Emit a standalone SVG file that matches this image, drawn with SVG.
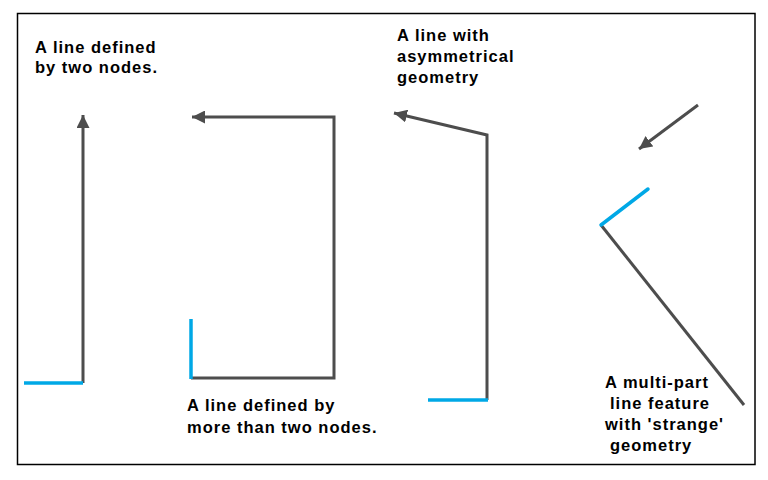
<svg xmlns="http://www.w3.org/2000/svg" width="768" height="480" viewBox="0 0 768 480">
<style>
.t{font-family:"Liberation Sans",Arial,sans-serif;font-weight:bold;font-size:16.5px;letter-spacing:1px;fill:#000}
.g{stroke:#4d4d4d;stroke-width:3;fill:none}
.b{stroke:#00a8e6;stroke-width:3.5;fill:none}
</style>
<defs>
<marker id="ah" viewBox="0 0 13 13" refX="13" refY="6.5" markerWidth="13" markerHeight="13" markerUnits="userSpaceOnUse" orient="auto">
<path d="M0,0 L13,6.5 L0,13 Z" fill="#4d4d4d"/>
</marker>
</defs>
<rect x="0" y="0" width="768" height="480" fill="#fff"/>
<rect x="17.5" y="13.5" width="737.5" height="451" fill="none" stroke="#000" stroke-width="1.5"/>
<g id="connectors">
<polyline class="g" points="83,383 83,115" marker-end="url(#ah)"/>
<polyline class="g" points="191,378 334,378 334,117 192,117" marker-end="url(#ah)"/>
<polyline class="g" points="487,400 487,135 394,113" marker-end="url(#ah)"/>
<polyline class="g" points="698,105 639,149" marker-end="url(#ah)"/>
<line class="g" x1="601" y1="225" x2="744" y2="405"/>
</g>
<g id="node1">
<line class="b" x1="24" y1="383" x2="83" y2="383"/>
<text class="t" x="35" y="53">A line defined</text>
<text class="t" x="35" y="73">by two nodes.</text>
</g>
<g id="node2">
<line class="b" x1="191" y1="319" x2="191" y2="379"/>
<text class="t" x="187" y="411">A line defined by</text>
<text class="t" x="187" y="433">more than two nodes.</text>
</g>
<g id="node3">
<line class="b" x1="428" y1="400" x2="488" y2="400"/>
<text class="t" x="397" y="41">A line with</text>
<text class="t" x="397" y="62">asymmetrical</text>
<text class="t" x="397" y="83">geometry</text>
</g>
<g id="node4">
<line class="b" x1="601" y1="225" x2="648" y2="189" stroke-linecap="round"/>
<text class="t" x="605" y="388">A multi-part</text>
<text class="t" x="610" y="409">line feature</text>
<text class="t" x="605" y="430">with 'strange'</text>
<text class="t" x="610" y="451">geometry</text>
</g>
</svg>
